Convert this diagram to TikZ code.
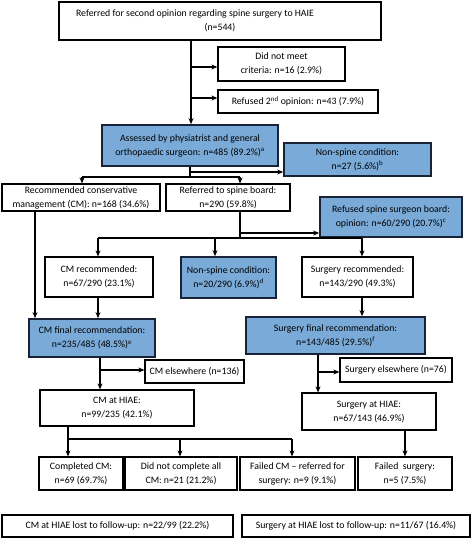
\documentclass[tikz,border=0pt]{standalone}
\usepackage{fontspec}
\setmainfont{Carlito}
\usetikzlibrary{arrows.meta}
\definecolor{blueb}{RGB}{122,170,216}
\definecolor{bdark}{RGB}{25,35,55}
\begin{document}
\begin{tikzpicture}[x=1pt,y=-1pt,
  box/.style={draw=black, line width=1.2pt, align=center, inner sep=0pt, fill=white,
    font=\fontsize{9.8}{14}\selectfont},
  bbox/.style={box, fill=blueb, draw=bdark, line width=1.7pt},
  conn/.style={line width=1.25pt},
  arr/.style={conn, -{Stealth[length=6pt,width=5pt]}}]
\useasboundingbox (0,0) rectangle (472,538);
% boxes
\node[box, minimum width=322, minimum height=38] (top) at (220,21)
  {Referred for second opinion regarding spine surgery to HAIE\hspace*{50pt}\\(n=544)};
\node[box, minimum width=127, minimum height=34] (dnm) at (281.5,64)
  {Did not meet\\criteria: n=16 (2.9\%)};
\node[box, minimum width=160, minimum height=23] (ref2) at (298,101.5)
  {Refused 2\textsuperscript{nd} opinion: n=43 (7.9\%)};
\node[bbox, minimum width=176, minimum height=41] (ass) at (190,145.5)
  {Assessed by physiatrist and general\\orthopaedic surgeon: n=485 (89.2\%)\textsuperscript{a}};
\node[bbox, minimum width=147, minimum height=33] (ns1) at (357.5,159.5)
  {Non-spine condition:\\n=27 (5.6\%)\textsuperscript{b}};
\node[box, minimum width=158, minimum height=27] (rcm) at (81,197.5)
  {Recommended conservative\\management (CM): n=168 (34.6\%)};
\node[box, minimum width=124, minimum height=27] (rsb) at (228,197.5)
  {Referred to spine board:\\n=290 (59.8\%)};
\node[bbox, minimum width=142, minimum height=40] (rfb) at (391,217)
  {Refused spine surgeon board:\\opinion: n=60/290 (20.7\%)\textsuperscript{c}};
\node[box, minimum width=108, minimum height=40] (cmr) at (99,277)
  {CM recommended:\\n=67/290 (23.1\%)};
\node[bbox, minimum width=95, minimum height=41] (ns2) at (228.5,277.5)
  {Non-spine condition:\\n=20/290 (6.9\%)\textsuperscript{d}};
\node[box, minimum width=111, minimum height=40] (sr) at (357.5,277)
  {Surgery recommended:\\n=143/290 (49.3\%)};
\node[bbox, minimum width=126, minimum height=38] (cmf) at (92,338)
  {CM final recommendation:\\n=235/485 (48.5\%)\textsuperscript{e}};
\node[bbox, minimum width=179, minimum height=37] (sf) at (335.5,335.5)
  {Surgery final recommendation:\\n=143/485 (29.5\%)\textsuperscript{f}};
\node[box, minimum width=99, minimum height=23] (cme) at (194.5,371.5)
  {CM elsewhere (n=136)};
\node[box, minimum width=112, minimum height=24] (se) at (396,370)
  {Surgery elsewhere (n=76)};
\node[box, minimum width=154, minimum height=36] (cmh) at (117,408)
  {CM at HIAE:\\n=99/235 (42.1\%)};
\node[box, minimum width=134, minimum height=37] (sh) at (369,411.5)
  {Surgery at HIAE:\\n=67/143 (46.9\%)};
\node[box, minimum width=84, minimum height=33] (r1) at (81,473.5)
  {Completed CM:\\n=69 (69.7\%)};
\node[box, minimum width=112, minimum height=33] (r2) at (181,473.5)
  {Did not complete all\\CM: n=21 (21.2\%)};
\node[box, minimum width=115, minimum height=33] (r3) at (297.5,473.5)
  {Failed CM – referred for\\surgery: n=9 (9.1\%)};
\node[box, minimum width=94, minimum height=33] (r4) at (405,473.5)
  {Failed~ surgery:\\n=5 (7.5\%)};
\node[box, minimum width=231, minimum height=22] (b1) at (117.5,526)
  {CM at HIAE lost to follow-up: n=22/99 (22.2\%)};
\node[box, minimum width=228, minimum height=22] (b2) at (356,526)
  {Surgery at HIAE lost to follow-up: n=11/67 (16.4\%)};
% junction coordinates
\coordinate (t1) at (191,67);
\coordinate (t2) at (191,98);
\coordinate (a1) at (190,172);
\coordinate (a2) at (190,177);
\coordinate (aL) at (82,177);
\coordinate (aR) at (240,177);
\coordinate (s1) at (240,233);
\coordinate (s2) at (240,238);
\coordinate (sL) at (98,238);
\coordinate (sM) at (215,238);
\coordinate (sR) at (362,238);
\coordinate (lv) at (35,211);
\coordinate (c1) at (100,370);
\coordinate (f1) at (318,372);
\coordinate (h1) at (68,439);
\coordinate (hM) at (180,439);
\coordinate (hR) at (292,439);
% connectors
\draw[arr] (top.south -| t1) -- (ass.north -| t1);
\draw[arr] (t1) -- (t1 -| dnm.west);
\draw[arr] (t2) -- (t2 -| ref2.west);
\draw[conn] (ass.south -| a1) -- (a2);
\draw[arr] (a1) -- (a1 -| ns1.west);
\draw[conn] (aL) -- (aR);
\draw[arr] (aL) -- (aL |- rcm.north);
\draw[arr] (aR) -- (aR |- rsb.north);
\draw[conn] (rsb.south -| s1) -- (s2);
\draw[arr] (s1) -- (s1 -| rfb.west);
\draw[conn] (sL) -- (sR);
\draw[arr] (sL) -- (sL |- cmr.north);
\draw[arr] (sM) -- (sM |- ns2.north);
\draw[arr] (sR) -- (sR |- sr.north);
\draw[arr] (lv) -- (lv |- cmf.north);
\draw[arr] (cmr.south -| sL) -- (cmf.north -| sL);
\draw[arr] (sr.south -| sR) -- (sf.north -| sR);
\draw[arr] (cmf.south -| c1) -- (cmh.north -| c1);
\draw[arr] (c1) -- (c1 -| cme.west);
\draw[arr] (sf.south -| f1) -- (sh.north -| f1);
\draw[arr] (f1) -- (f1 -| se.west);
\draw[conn] (cmh.south -| h1) -- (h1) -- (hR);
\draw[arr] (h1) -- (h1 |- r1.north);
\draw[arr] (hM) -- (hM |- r2.north);
\draw[arr] (hR) -- (hR |- r3.north);
\draw[arr] (sh.south -| r4.north) -- (r4.north);
\end{tikzpicture}
\end{document}
